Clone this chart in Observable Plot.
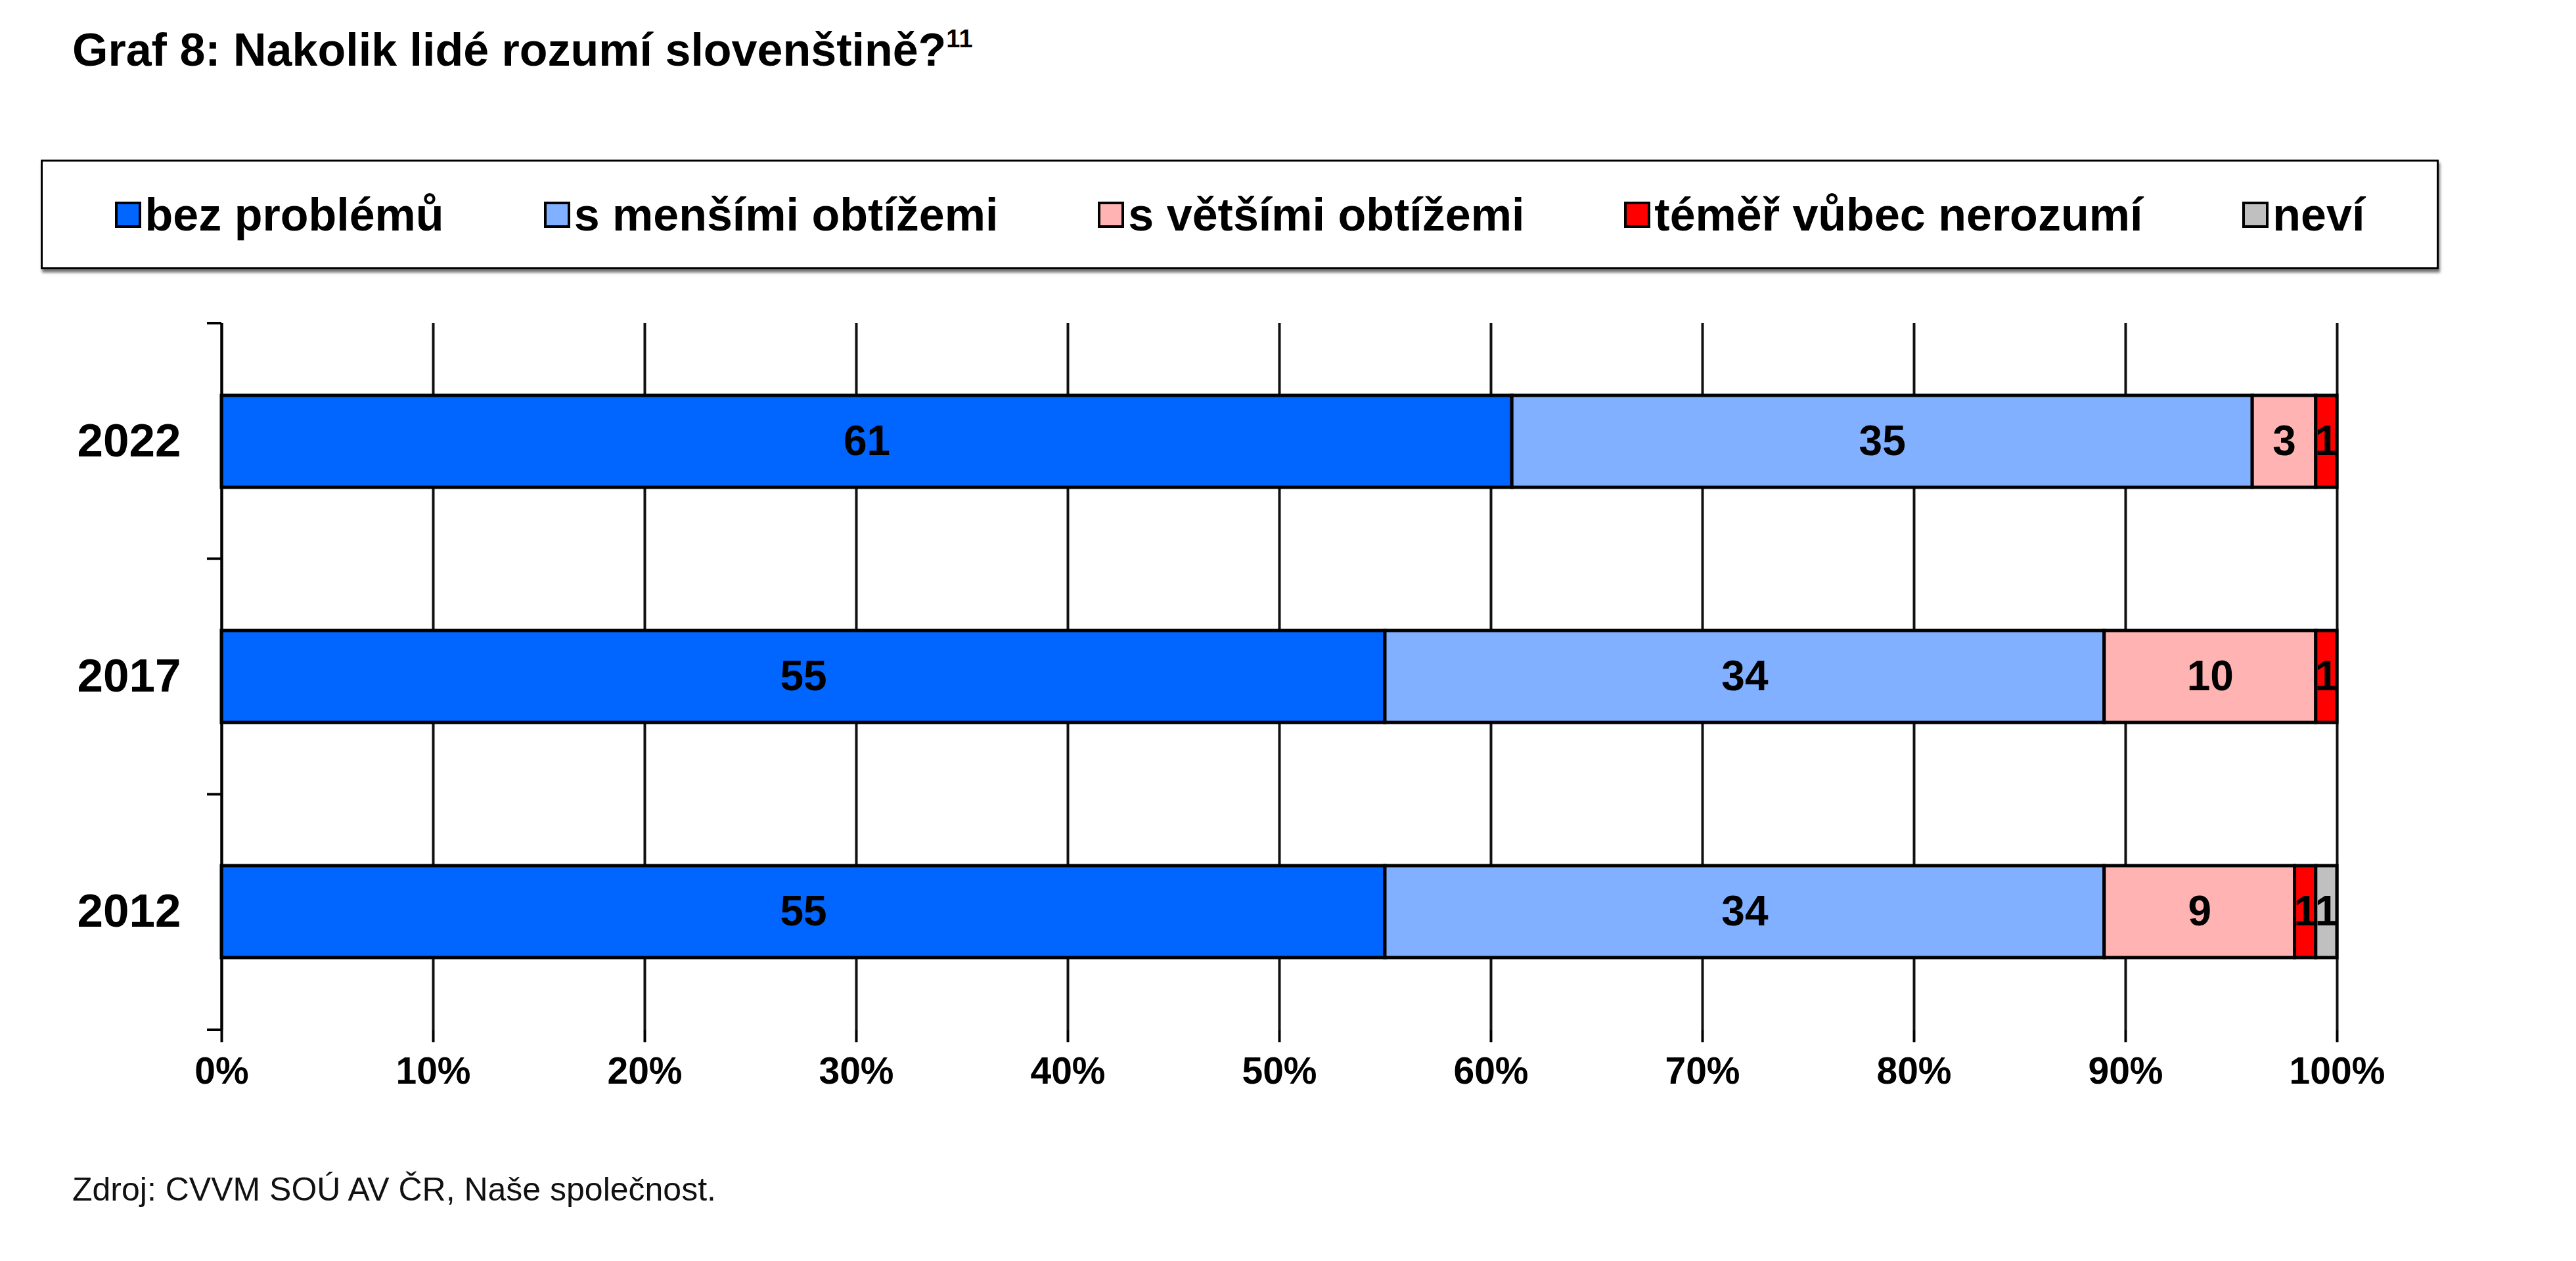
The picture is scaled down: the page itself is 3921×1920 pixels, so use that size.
<!DOCTYPE html>
<html>
<head>
<meta charset="utf-8">
<script src="https://cdn.jsdelivr.net/npm/d3@7"></script>
<script src="https://cdn.jsdelivr.net/npm/@observablehq/plot@0.6"></script>
<style>
  body { margin:0; background:#fff; width:3921px; height:1920px; position:relative; overflow:hidden;
         font-family:"Liberation Sans", Arial, sans-serif; color:#000; }
  #title { position:absolute; left:110px; top:41px; font-size:70px; font-weight:bold; line-height:1; white-space:nowrap; }
  #title sup { font-size:38px; vertical-align:0; position:relative; top:-28px; }
  #legend { position:absolute; left:62px; top:243px; width:3650px; height:167px; box-sizing:border-box;
            border:3px solid #000; box-shadow:2px 5px 4px #777; display:flex; align-items:center;
            justify-content:center; gap:152px; background:#fff; }
  .item { display:flex; align-items:center; font-size:70px; font-weight:bold; white-space:nowrap; }
  .sw { width:32px; height:32px; border:4px solid #000; margin-right:6px; }
  #chart { position:absolute; left:0; top:420px; }
  #caption { position:absolute; left:110px; top:1786px; font-size:50px; line-height:1; color:#111; white-space:nowrap; }
</style>
</head>
<body>
<div id="title">Graf 8: Nakolik lidé rozumí slovenštině?<sup>11</sup></div>
<div id="legend"></div>
<div id="chart"></div>
<div id="caption">Zdroj: CVVM SOÚ AV ČR, Naše společnost.</div>
<script>
// ---- data ----
const years = ["2022", "2017", "2012"];
const categories = ["bez problémů", "s menšími obtížemi", "s většími obtížemi", "téměř vůbec nerozumí", "neví"];
const bezProblemu = [61, 55, 55];
const sMensimiObtizemi = [35, 34, 34];
const sVetsimiObtizemi = [3, 10, 9];
const temerVubecNerozumi = [1, 1, 1];
const nevi = [0, 0, 1];
const xTicks = [0, 10, 20, 30, 40, 50, 60, 70, 80, 90, 100];
const colors = ["#0066ff", "#80b0ff", "#ffb3b3", "#ff0000", "#c0c0c0"];

const series = [bezProblemu, sMensimiObtizemi, sVetsimiObtizemi, temerVubecNerozumi, nevi];
const rows = years.flatMap((year, i) =>
  series.map((s, j) => ({year, category: categories[j], value: s[i]}))
).filter(d => d.value > 0);

// ---- legend ----
const legend = document.getElementById("legend");
categories.forEach((c, i) => {
  const it = document.createElement("div");
  it.className = "item";
  const sw = document.createElement("div");
  sw.className = "sw";
  sw.style.background = colors[i];
  const t = document.createElement("span");
  t.textContent = c;
  it.appendChild(sw); it.appendChild(t);
  legend.appendChild(it);
});

// ---- chart ----
const chart = Plot.plot({
  width: 3921,
  height: 1280,
  marginTop: 72,
  marginBottom: 132,
  marginLeft: 337,
  marginRight: 364,
  style: {fontFamily: "Liberation Sans, Arial, sans-serif", background: "transparent", color: "black", overflow: "visible"},
  x: {domain: [0, 100]},
  y: {domain: years, paddingInner: 0.61, paddingOuter: 0.305, align: 0.5},
  color: {domain: categories, range: colors},
  marks: [
    Plot.gridX(xTicks, {stroke: "#111", strokeOpacity: 1, strokeWidth: 4}),
    Plot.barX(rows, {x: "value", y: "year", fill: "category", stroke: "black", strokeWidth: 5, order: categories}),
    Plot.text(rows, Plot.stackX({x: "value", y: "year", z: "category", order: categories, text: "value",
      fontSize: 64, fontWeight: "bold", fill: "black"})),
    Plot.ruleX([0], {stroke: "black", strokeWidth: 4}),
    Plot.axisX(xTicks, {tickFormat: d => d + "%", tickSize: 19, tickPadding: 22, fontSize: 57, fontWeight: "bold",
      strokeWidth: 4, line: true, label: null, color: "black"}),
    Plot.axisY({tickSize: 0, tickPadding: 62, fontSize: 71, fontWeight: "bold", label: null, color: "black"})
  ]
});
document.getElementById("chart").appendChild(chart);

// band-boundary ticks on the y axis, derived from the scales
const ys = chart.scale("y");
const xs = chart.scale("x");
const [r0, r1] = ys.range;
const step = (r1 - r0) / years.length;
const x0 = xs.apply(0);
d3.select(chart).append("g")
  .attr("stroke", "black").attr("stroke-width", 4)
  .selectAll("line").data(d3.range(years.length + 1)).join("line")
  .attr("x1", x0 - 22).attr("x2", x0)
  .attr("y1", i => r0 + i * step).attr("y2", i => r0 + i * step);
</script>
</body>
</html>
